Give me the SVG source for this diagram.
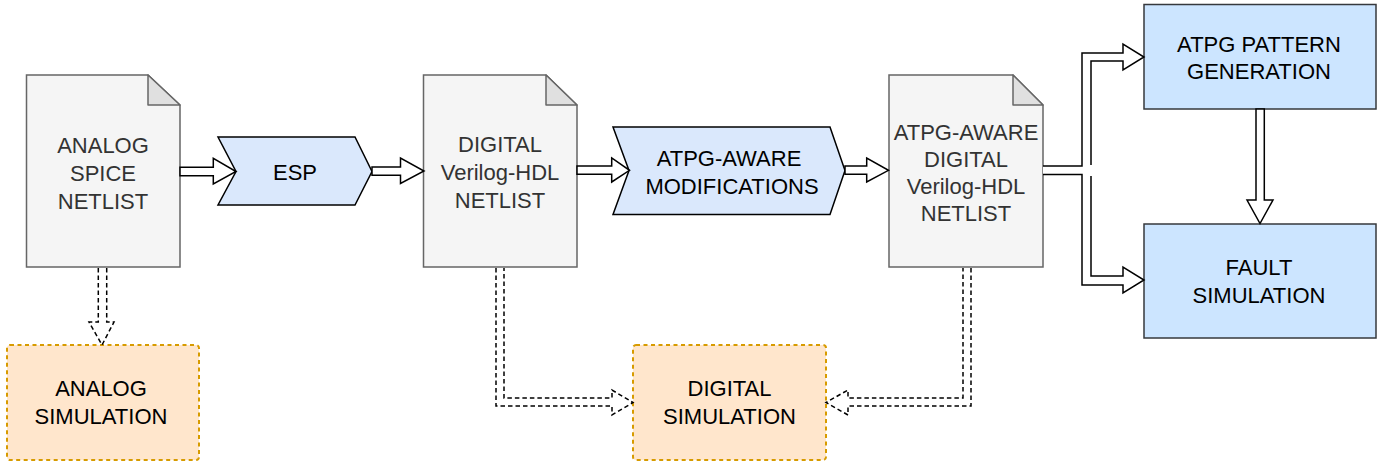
<svg xmlns="http://www.w3.org/2000/svg" width="1391" height="466" viewBox="0 0 1391 466">
  <style>
    text { font-family: "Liberation Sans", Arial, sans-serif; font-size: 22px; text-anchor: middle; }
    .doc path.body { fill: #f5f5f5; stroke: #666666; stroke-width: 1.5; }
    .doc path.fold { fill: #e0e0e0; stroke: #666666; stroke-width: 1.5; stroke-linejoin: round; }
    .doc text { fill: #333333; }
    .step polygon { fill: #dae8fc; stroke: #000000; stroke-width: 1.5; }
    .box rect { fill: #cce5ff; stroke: #36393d; stroke-width: 1.5; }
    .sim rect { fill: #ffe6cc; stroke: #d79b00; stroke-width: 2; stroke-dasharray: 4 3.5; }
    .dark { fill: #000000; }
    .flex { fill: #ffffff; stroke: #000000; stroke-width: 1.5; stroke-linejoin: miter; }
    .flexline { fill: none; stroke: #000000; stroke-width: 1.5; }
    .dash { fill: none; stroke: #000000; stroke-width: 1.5; stroke-dasharray: 4.5 3; }
  </style>

  <!-- document nodes -->
  <g id="analog-spice-netlist" class="doc">
    <path class="body" d="M26.5,75 H148 L180,105 V267 H26.5 Z"/>
    <path class="fold" d="M148,75 V105 H180 Z"/>
    <text x="103" y="152.5">ANALOG</text>
    <text x="103" y="180.5">SPICE</text>
    <text x="103" y="208.5">NETLIST</text>
  </g>
  <g id="digital-netlist" class="doc">
    <path class="body" d="M423.5,75 H546 L577,105 V267 H423.5 Z"/>
    <path class="fold" d="M546,75 V105 H577 Z"/>
    <text x="500" y="152">DIGITAL</text>
    <text x="500" y="180">Verilog-HDL</text>
    <text x="500" y="208">NETLIST</text>
  </g>
  <g id="atpg-aware-netlist" class="doc">
    <path class="body" d="M889,75 H1013 L1043,105 V267 H889 Z"/>
    <path class="fold" d="M1013,75 V105 H1043 Z"/>
    <text x="966" y="140">ATPG-AWARE</text>
    <text x="966" y="167">DIGITAL</text>
    <text x="966" y="194">Verilog-HDL</text>
    <text x="966" y="221">NETLIST</text>
  </g>

  <!-- process steps -->
  <g id="esp" class="step">
    <polygon points="218,137 355,137 372,171.5 355,205 218,205 236,171.5"/>
    <text class="dark" x="295" y="180">ESP</text>
  </g>
  <g id="atpg-aware-modifications" class="step">
    <polygon points="613,127 830,127 845,170.5 830,214.5 613,214.5 629,170.5"/>
    <text class="dark" x="729" y="166">ATPG-AWARE</text>
    <text class="dark" x="732" y="193.5">MODIFICATIONS</text>
  </g>

  <!-- ATPG boxes -->
  <g id="atpg-pattern-generation" class="box">
    <rect x="1144" y="4.5" width="232" height="104.5"/>
    <text class="dark" x="1259" y="51.5">ATPG PATTERN</text>
    <text class="dark" x="1259" y="79">GENERATION</text>
  </g>
  <g id="fault-simulation" class="box">
    <rect x="1144" y="224" width="232" height="114"/>
    <text class="dark" x="1259" y="275">FAULT</text>
    <text class="dark" x="1259" y="303">SIMULATION</text>
  </g>

  <!-- simulation boxes -->
  <g id="analog-simulation" class="sim">
    <rect x="7" y="345" width="192" height="115" rx="3"/>
    <text class="dark" x="101" y="396">ANALOG</text>
    <text class="dark" x="101" y="423.5">SIMULATION</text>
  </g>
  <g id="digital-simulation" class="sim">
    <rect x="633" y="345" width="193" height="115" rx="3"/>
    <text class="dark" x="729.5" y="396">DIGITAL</text>
    <text class="dark" x="729.5" y="423.5">SIMULATION</text>
  </g>

  <!-- connectors -->
  <g id="connectors">
    <!-- hollow block arrows -->
    <polygon class="flex" points="180,167.3 213.3,167.3 213.3,158.3 236,171.5 213.3,184 213.3,175.7 180,175.7"/>
    <polygon class="flex" points="372,167 400.5,167 400.5,158 424,171 400.5,183.5 400.5,175.3 372,175.3"/>
    <polygon class="flex" points="577,166 611.7,166 611.7,158 629.5,170.3 611.7,182 611.7,174.3 577,174.3"/>
    <polygon class="flex" points="845,166 866.7,166 866.7,158 888.5,170.3 866.7,182 866.7,174.3 845,174.3"/>
    <polygon class="flex" points="1256,109 1264.3,109 1264.3,200 1273,200 1260,223.5 1247,200 1256,200"/>

    <!-- forked arrow to both ATPG boxes -->
    <path fill="#ffffff" stroke="none" d="M1043,166 H1082 V53 H1123 V44 L1144,57 L1123,70 V61 H1091 V276 H1123 V267 L1144,280 L1123,293 V285 H1082 V174 H1043 Z"/>
    <path class="flexline" d="M1043,166 H1082 V53 H1123 V44 L1144,57 L1123,70 V61 H1091 V165"/>
    <path class="flexline" d="M1043,174.5 H1082 V285 H1123 V293 L1144,280 L1123,267 V276 H1091 V176"/>

    <!-- dashed hollow arrows to simulations -->
    <path class="dash" d="M98.3,268 V322 H89 L102,345 L114,322 H106.7 V268"/>
    <path class="dash" d="M496,268 V406 H612 V415 L633,402.5 L612,390 V398 H504 V268"/>
    <path class="dash" d="M971,268 V406 H848 V415 L826,402.5 L848,390 V398 H963 V268"/>
  </g>
</svg>
